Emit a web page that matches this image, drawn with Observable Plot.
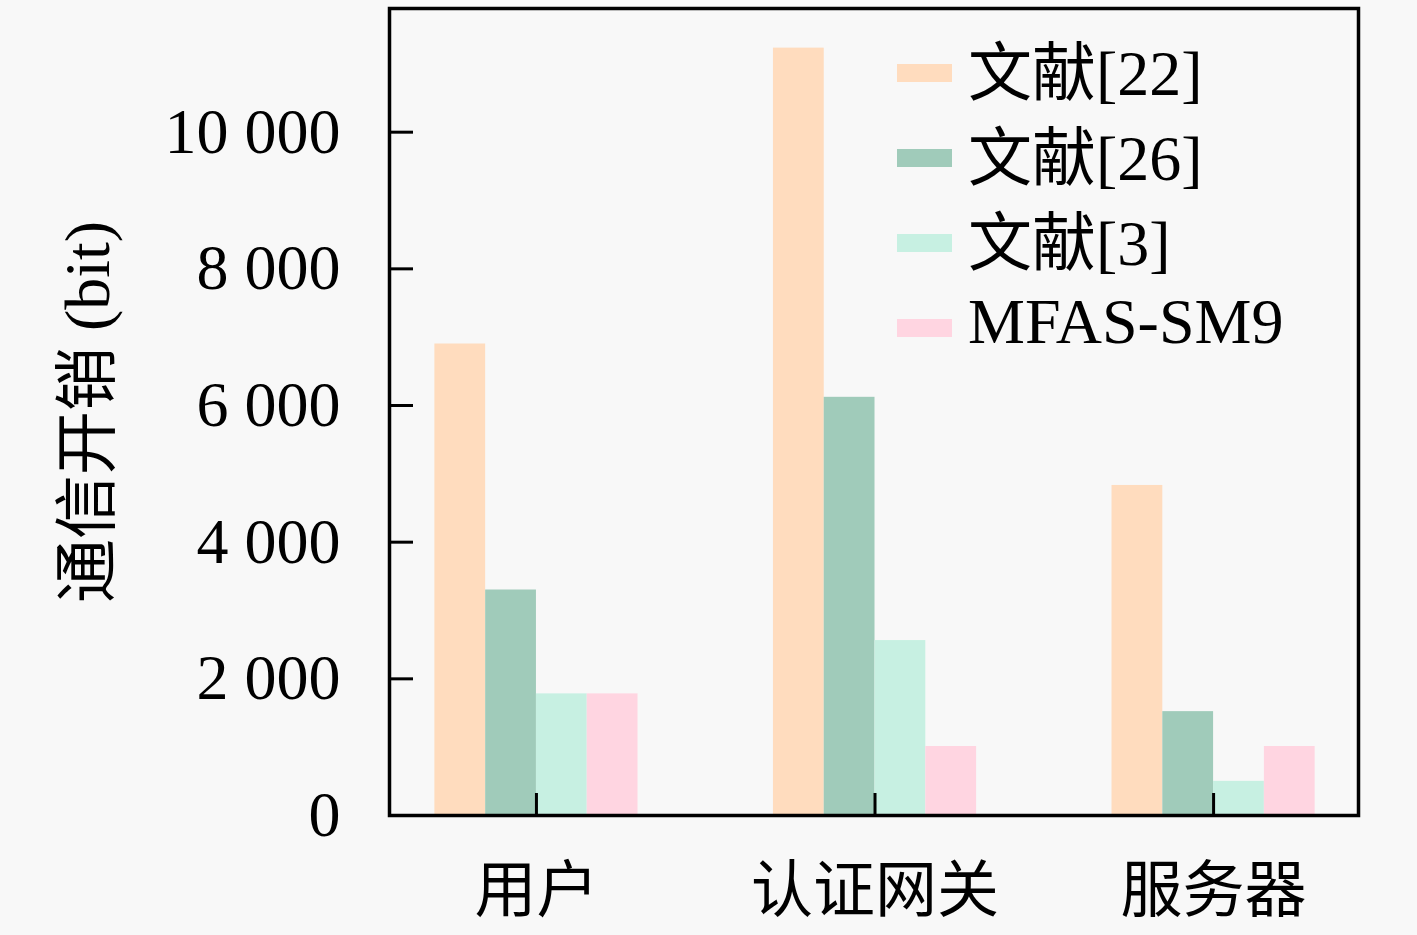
<!DOCTYPE html>
<html>
<head>
<meta charset="utf-8">
<script src="https://cdn.jsdelivr.net/npm/d3@7"></script>
<script src="https://cdn.jsdelivr.net/npm/@observablehq/plot@0.6"></script>
<style>
  html, body { margin: 0; padding: 0; background: #f8f8f8; }
  #wrap { position: relative; width: 1417px; height: 935px; }
  #legend { position: absolute; left: 897px; top: 30px; font-family: 'Liberation Serif', 'Noto Sans CJK SC', serif; font-size: 64px; color: #000; }
  #legend .row { display: flex; align-items: center; height: 85px; }
  #legend .sw { width: 55px; height: 18px; margin-right: 16px; }
  #legend span { position: relative; top: -6px; }
</style>
</head>
<body>
<div id="wrap"><div id="legend"></div></div>
<script>
const groups = ["用户", "认证网关", "服务器"];
const series = ["文献[22]", "文献[26]", "文献[3]", "MFAS-SM9"];
const ref22 = [6900, 11230, 4830];
const ref26 = [3300, 6120, 1520];
const ref3 = [1780, 2560, 500];
const mfas = [1780, 1010, 1010];
const yTicks = [0, 2000, 4000, 6000, 8000, 10000];
const colors = ["#FFDCBE", "#A0CBBA", "#C7F0E2", "#FFD5E1"];

const seriesValues = [ref22, ref26, ref3, mfas];
const barWidth = 0.15;
const rows = [];
groups.forEach((g, gi) => {
  series.forEach((s, si) => {
    const x1 = gi + (si - 2) * barWidth;
    rows.push({group: g, series: s, x1, x2: x1 + barWidth, value: seriesValues[si][gi]});
  });
});

const fmt = v => v >= 1000 ? d3.format(",")(v).replace(/,/g, " ") : String(v);

const chart = Plot.plot({
  width: 1417,
  height: 935,
  marginLeft: 389,
  marginRight: 59,
  marginTop: 8,
  marginBottom: 120,
  style: {
    fontSize: "64px",
    fontFamily: "'Liberation Serif', 'Noto Sans CJK SC', serif",
    background: "#f8f8f8",
    color: "#000"
  },
  x: {type: "linear", domain: [-0.434, 2.428]},
  y: {domain: [0, 11810]},
  color: {domain: series, range: colors},
  marks: [
    Plot.rectY(rows, {x1: "x1", x2: "x2", y: "value", fill: "series"}),
    Plot.axisY({
      ticks: yTicks, tickFormat: fmt, tickSize: -24, tickPadding: 73,
      strokeWidth: 3, label: "通信开销 (bit)", labelAnchor: "center",
      labelArrow: "none", labelOffset: 326, fontSize: 64
    }),
    Plot.axisX({
      ticks: [0, 1, 2], tickFormat: i => groups[i], tickSize: -22, tickPadding: 74,
      strokeWidth: 3, label: null, fontSize: 62, fontFamily: "'Noto Sans CJK SC', sans-serif"
    }),
    Plot.frame({stroke: "#000", strokeWidth: 3.5})
  ]
});
document.getElementById("wrap").prepend(chart);

const legend = document.getElementById("legend");
series.forEach((s, i) => {
  const row = document.createElement("div");
  row.className = "row";
  const sw = document.createElement("div");
  sw.className = "sw";
  sw.style.background = colors[i];
  const t = document.createElement("span");
  t.textContent = s;
  row.append(sw, t);
  legend.append(row);
});
</script>
</body>
</html>
